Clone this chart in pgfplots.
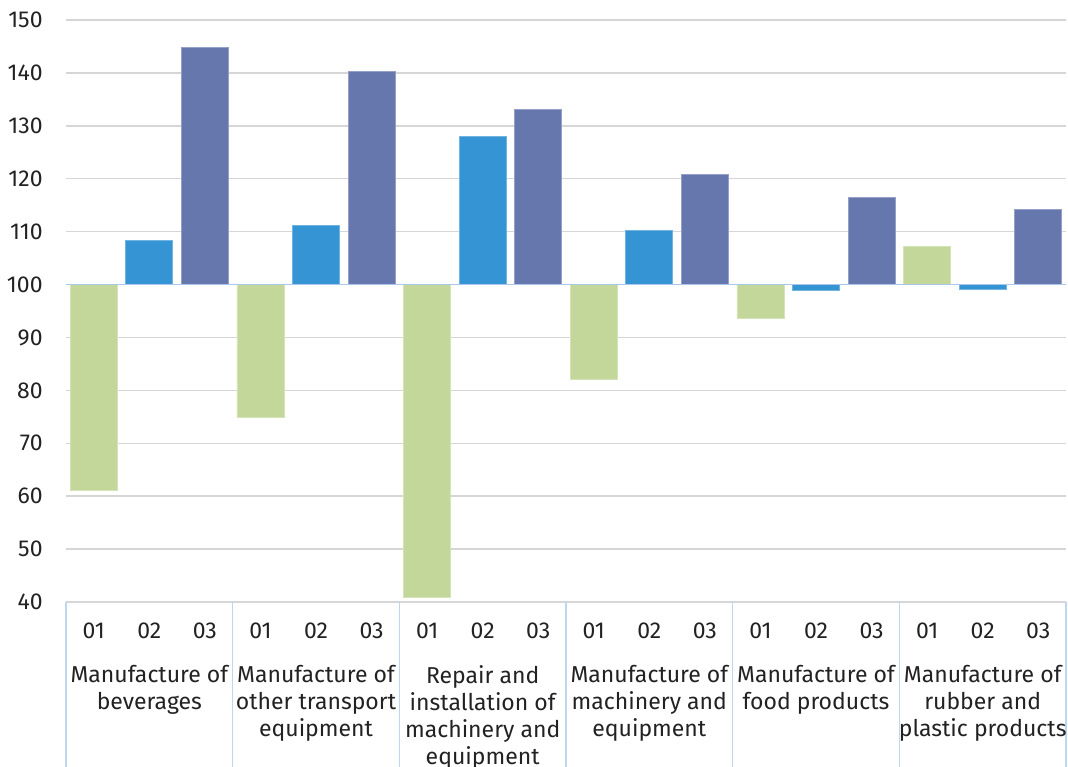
\documentclass[border=0pt]{standalone}
\usepackage{pgfplots}
\pgfplotsset{compat=1.18}
\usepackage{fontspec}
\setmainfont{Fira Sans}
\definecolor{gA}{HTML}{C4D79B}
\definecolor{gB}{HTML}{3494D4}
\definecolor{gC}{HTML}{6677AD}
\definecolor{sepc}{HTML}{BDD7EE}
\definecolor{basec}{HTML}{A9C9EA}
\definecolor{gridc}{HTML}{D6D6D6}
\definecolor{textc}{HTML}{222222}
\begin{document}
\begin{tikzpicture}[font=\fontsize{11.5bp}{13.5bp}\selectfont, text=textc]
\begin{axis}[
  scale only axis, width=500bp, height=291bp,
  xmin=-0.5, xmax=17.5, ymin=-60, ymax=50,
  y filter/.expression={y-100},
  ybar, bar width=23.5bp, bar shift=0pt,
  axis line style={draw=none},
  major tick length=0pt,
  ytick={-60,-50,-40,-30,-20,-10,0,10,20,30,40,50},
  yticklabels={40,50,60,70,80,90,100,110,120,130,140,150},
  ymajorgrids, major grid style={gridc, line width=0.7bp},
  xtick={0,1,2,3,4,5,6,7,8,9,10,11,12,13,14,15,16,17},
  xticklabels={01,02,03,01,02,03,01,02,03,01,02,03,01,02,03,01,02,03},
  xticklabel style={anchor=base, yshift=-18bp, inner sep=0pt},
  yticklabel style={anchor=east, inner sep=0pt, xshift=-11.5bp},
  clip=false,
]
\addplot[fill=gA, draw=gA!70!white, line width=0.4bp] coordinates {(0,61.1) (3,74.9) (6,40.8) (9,82.0) (12,93.6) (15,107.2)};
\addplot[fill=gB, draw=gB!70!white, line width=0.4bp] coordinates {(1,108.3) (4,111.2) (7,128.0) (10,110.2) (13,98.9) (16,99.1)};
\addplot[fill=gC, draw=gC!70!white, line width=0.4bp] coordinates {(2,144.8) (5,140.3) (8,133.1) (11,120.8) (14,116.4) (17,114.2)};
\draw[basec, line width=0.7bp] (axis cs:-0.5,0) -- (axis cs:17.5,0);
\pgfplotsinvokeforeach{-0.5,2.5,5.5,8.5,11.5,14.5,17.5}{
  \draw[sepc, line width=0.8bp] (axis cs:#1,-60) -- ([yshift=-95bp]axis cs:#1,-60);
}
\node[anchor=north, align=center, inner sep=0pt] at (axis cs:1,-60) [yshift=-31.5bp] {Manufacture of\\beverages};
\node[anchor=north, align=center, inner sep=0pt] at (axis cs:4,-60) [yshift=-31.5bp] {Manufacture of\\other transport\\equipment};
\node[anchor=north, align=center, inner sep=0pt] at (axis cs:7,-60) [yshift=-31.5bp] {Repair and\\installation of\\machinery and\\equipment};
\node[anchor=north, align=center, inner sep=0pt] at (axis cs:10,-60) [yshift=-31.5bp] {Manufacture of\\machinery and\\equipment};
\node[anchor=north, align=center, inner sep=0pt] at (axis cs:13,-60) [yshift=-31.5bp] {Manufacture of\\food products};
\node[anchor=north, align=center, inner sep=0pt] at (axis cs:16,-60) [yshift=-31.5bp] {Manufacture of\\rubber and\\plastic products};
\end{axis}
\pgfresetboundingbox
\useasboundingbox ([shift={(-33bp,-82.5bp)}]current axis.south west) rectangle ([shift={(1bp,10bp)}]current axis.north east);
\end{tikzpicture}
\end{document}
